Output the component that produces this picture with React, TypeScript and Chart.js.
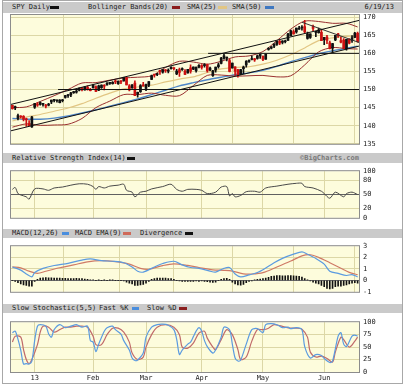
import React, { useEffect, useRef } from "react";
import { Chart, registerables } from "chart.js";
Chart.register(...registerables);

// ---------------- data ----------------
// trading days from 12/19/12 (index 0) to 6/19/13 (index 124)
const monthTicks = [8, 29, 48, 68, 90, 112];
const monthLabels = ["13", "Feb", "Mar", "Apr", "May", "Jun"];

const open = [145.6,144.9,142.0,142.6,142.6,141.9,140.6,139.7,145.1,145.9,145.9,145.9,145.7,145.7,146.6,147.0,146.9,146.4,146.9,147.8,148.3,148.5,149.1,149.3,149.8,150.3,149.9,150.6,149.9,150.5,150.8,149.8,150.5,151.1,151.3,151.7,151.6,152.3,151.6,152.4,152.4,153.3,151.0,150.5,151.8,148.7,149.4,151.1,150.3,151.2,152.8,154.1,154.1,155.1,154.8,155.4,155.1,155.8,156.0,154.3,155.5,155.5,155.1,154.6,156.0,155.6,155.2,156.2,156.6,156.6,156.9,155.4,153.8,155.4,156.3,157.2,158.6,158.7,158.0,156.0,156.3,155.5,154.2,155.8,156.8,157.8,158.3,158.3,158.6,159.3,159.2,158.4,161.1,161.4,162.0,162.5,163.3,163.0,163.2,163.6,164.9,166.0,165.9,166.7,167.0,167.4,164.1,164.4,167.4,165.8,165.7,165.8,163.8,164.5,162.9,161.4,163.7,165.4,163.5,163.7,161.3,163.9,163.6,164.4,165.5];
const high = [145.7,145.4,143.2,142.8,142.8,142.1,141.4,142.6,146.2,146.4,146.6,146.1,145.9,146.2,147.1,147.2,147.1,147.2,147.3,148.4,148.6,149.2,149.5,150.0,150.5,150.6,150.8,151.0,150.3,151.4,151.0,151.2,151.3,151.4,151.9,151.9,152.2,152.6,152.4,152.5,153.3,153.3,151.4,151.4,152.4,149.3,151.4,152.0,151.5,152.2,154.0,154.2,154.5,155.4,155.5,155.5,155.7,156.3,156.0,155.6,155.9,156.0,155.5,155.6,156.8,156.3,156.2,156.9,156.9,157.2,157.0,156.2,155.3,156.2,157.3,158.9,159.7,159.0,158.4,157.3,156.3,155.6,155.6,156.5,158.0,158.2,159.3,158.6,159.5,159.7,159.3,159.9,161.6,161.9,162.6,163.3,163.6,163.5,163.7,165.5,166.4,166.5,167.0,167.5,167.7,169.1,165.9,165.4,167.8,166.0,167.0,166.4,164.4,165.0,163.4,162.8,165.0,165.5,164.6,164.1,163.9,164.1,164.9,165.8,165.9];
const low = [144.6,144.4,141.6,142.1,141.3,139.8,140.0,139.5,144.8,145.3,145.7,145.4,144.9,145.5,146.1,146.6,146.5,146.3,146.6,147.6,147.8,148.0,148.9,149.0,149.6,149.6,149.8,149.8,149.6,150.4,149.4,149.7,150.3,149.9,151.2,151.4,151.5,151.6,151.4,151.6,152.3,151.3,149.6,150.3,148.3,147.9,149.2,150.9,149.7,150.8,152.7,153.4,153.8,154.2,154.5,154.7,154.6,155.6,155.4,154.1,153.6,155.3,154.1,154.5,154.5,155.5,154.8,156.0,155.6,156.2,154.8,155.2,153.6,154.8,155.9,157.1,158.4,157.9,154.9,155.9,153.9,153.4,154.1,154.4,156.2,157.5,158.2,157.8,158.4,158.6,158.0,158.3,160.9,161.2,161.6,162.2,162.4,162.6,162.9,163.6,164.8,165.3,165.6,166.6,166.4,165.6,163.9,164.1,166.3,164.6,165.6,163.5,162.4,162.7,161.2,160.2,163.5,164.4,162.9,161.3,160.9,162.6,163.0,164.3,163.1];
const close = [144.7,145.3,142.8,142.4,141.8,141.6,140.0,142.4,146.1,145.7,146.4,145.9,145.4,145.9,147.1,147.1,146.9,147.1,147.1,148.3,148.5,149.1,149.4,149.4,150.3,150.1,150.7,150.1,149.7,151.2,149.5,151.0,151.2,150.9,151.8,151.8,152.0,152.1,152.3,152.1,153.3,151.3,149.9,151.3,148.3,149.2,151.1,151.0,151.4,152.2,153.8,154.0,154.3,155.0,155.5,155.2,155.4,156.2,155.8,155.1,154.7,155.8,154.2,155.6,155.1,156.2,156.2,156.7,156.1,156.8,155.2,155.9,155.2,156.2,156.8,158.7,159.3,158.8,155.0,157.3,155.1,154.1,155.5,156.2,157.8,157.9,158.4,158.2,159.3,159.7,158.3,159.8,161.4,161.8,162.6,163.3,162.8,163.4,163.4,165.4,166.2,165.4,167.0,166.9,167.2,165.9,165.4,165.4,166.9,165.8,166.4,163.5,164.4,163.6,161.3,162.7,165.0,164.8,163.1,161.4,163.9,162.8,164.3,165.6,163.2];

// [day index, value]
const bbUpper = [[0,145.0],[5,145.2],[10,146.7],[15,148.3],[20,150.0],[25,151.8],[30,151.9],[35,152.6],[40,153.2],[45,153.4],[50,153.8],[55,156.1],[60,157.8],[65,157.6],[70,157.0],[75,157.8],[80,159.0],[85,159.3],[90,160.5],[95,163.5],[100,166.7],[105,168.9],[110,168.8],[115,168.3],[120,168.3],[124,167.3]];
const bbLower = [[0,139.6],[5,140.5],[10,140.1],[15,140.2],[20,140.4],[25,142.0],[30,145.0],[35,146.8],[40,148.6],[45,148.6],[50,149.0],[55,148.4],[60,148.3],[65,151.1],[70,153.9],[75,154.0],[80,153.7],[85,153.8],[90,153.9],[95,153.5],[100,153.8],[105,156.8],[110,160.4],[115,161.6],[120,161.3],[124,161.2]];
const sma25 = [[0,141.3],[5,142.4],[10,143.1],[15,144.0],[20,144.9],[25,146.1],[30,147.6],[35,149.0],[40,150.2],[45,150.7],[50,151.2],[55,152.1],[60,152.9],[65,153.5],[70,154.7],[75,155.7],[80,156.1],[85,156.3],[90,157.0],[95,158.1],[100,159.6],[105,161.5],[110,163.5],[115,164.3],[120,164.7],[124,164.7]];
const sma50 = [[0,142.0],[5,141.8],[10,141.8],[15,142.1],[20,142.7],[25,143.5],[30,144.4],[35,145.4],[40,146.4],[45,147.4],[50,148.6],[55,149.8],[60,151.0],[65,151.9],[70,152.7],[75,153.4],[80,154.1],[85,154.6],[90,155.3],[95,156.4],[100,157.7],[105,158.8],[110,159.9],[115,160.7],[120,161.4],[124,162.0]];

// trend / support lines [x index, price]
const trendUpper = [[-0.5,145.9],[124.5,169.1]];
const trendLower = [[-0.5,138.6],[124.5,162.0]];
const support150 = [[16.4,150],[124.5,150]];
const support160 = [[70.3,160],[124.5,160]];
const trendMay = [[104,168.6],[124.5,163.0]];

const rsi = [[0,61],[1,65],[2,52],[3,49],[5,45],[6,40],[8,62],[11,62],[13,59],[15,64],[18,66],[21,70],[24,73],[27,72],[29,67],[30,61],[31,67],[33,64],[35,68],[38,70],[40,72],[41,59],[43,55],[44,45],[46,55],[48,57],[50,62],[54,67],[57,72],[59,61],[61,57],[63,61],[66,61],[68,59],[70,52],[73,55],[75,66],[77,67],[78,47],[79,52],[80,45],[82,48],[84,56],[87,57],[89,55],[91,64],[95,68],[99,72],[102,74],[104,74],[105,67],[108,64],[111,57],[112,52],[114,42],[116,55],[119,45],[120,52],[122,55],[124,50]];

const macd = [[0,1.18],[3,0.9],[5,0.56],[7,0.31],[8,0.69],[11,1.06],[15,1.31],[20,1.5],[25,1.78],[28,1.88],[32,1.73],[36,1.68],[40,1.55],[43,1.18],[45,0.8],[47,0.73],[51,1.18],[54,1.48],[58,1.68],[61,1.36],[64,1.13],[67,1.06],[71,0.81],[73,0.73],[76,1.06],[78,1.13],[80,0.56],[82,0.31],[85,0.48],[88,0.69],[90,0.93],[94,1.55],[97,1.93],[101,2.3],[104,2.5],[106,2.3],[109,1.93],[112,1.43],[114,0.81],[117,0.61],[120,0.43],[122,0.51],[124,0.31]];
const macdSignal = [[0,1.18],[3,1.1],[6,0.81],[9,0.62],[12,0.8],[17,1.11],[22,1.36],[27,1.63],[32,1.73],[37,1.64],[42,1.43],[46,1.06],[49,0.98],[54,1.3],[58,1.45],[63,1.31],[67,1.13],[72,0.93],[76,0.88],[79,0.81],[83,0.58],[86,0.56],[90,0.68],[95,1.18],[100,1.7],[104,2.15],[107,2.25],[110,2.02],[114,1.55],[118,1.06],[121,0.7],[124,0.5]];
const divergence = [0,-0.1,-0.2,-0.3,-0.4,-0.45,-0.5,-0.5,-0.1,0.1,0.2,0.22,0.25,0.22,0.22,0.2,0.2,0.2,0.18,0.18,0.15,0.15,0.15,0.18,0.15,0.15,0.12,0.1,0.05,0.05,0,0.02,0,0.02,0,0.02,0.02,0,0,0,-0.05,-0.15,-0.25,-0.3,-0.45,-0.45,-0.4,-0.35,-0.25,-0.1,0.1,0.15,0.2,0.2,0.2,0.2,0.15,0.15,0.1,0,-0.05,-0.08,-0.1,-0.1,-0.1,-0.08,-0.05,-0.08,-0.05,-0.1,-0.12,-0.15,-0.18,-0.15,0,0.1,0.15,0.18,0.1,-0.15,-0.3,-0.4,-0.42,-0.35,-0.2,-0.1,-0.05,0.05,0.1,0.12,0.15,0.2,0.28,0.35,0.38,0.42,0.42,0.4,0.4,0.42,0.42,0.4,0.38,0.35,0.3,0.15,0.05,-0.05,-0.15,-0.25,-0.3,-0.45,-0.55,-0.7,-0.75,-0.7,-0.55,-0.5,-0.5,-0.45,-0.4,-0.3,-0.25,-0.2,-0.25];

const stochK = [[0,79],[1,82],[2,66],[3,44],[4,16],[5,17],[6,16],[7,22],[8,63],[9,92],[10,95],[12,92],[13,77],[14,70],[15,85],[17,95],[19,89],[21,92],[23,95],[25,90],[27,92],[28,63],[29,60],[30,41],[31,56],[33,82],[34,89],[36,92],[37,85],[39,76],[40,63],[42,44],[43,28],[44,23],[45,24],[47,38],[48,70],[50,90],[52,95],[54,96],[56,94],[58,85],[59,66],[60,35],[61,44],[63,56],[64,60],[65,71],[66,82],[67,89],[68,82],[69,63],[70,51],[72,38],[73,44],[75,70],[76,90],[78,85],[79,56],[80,28],[81,22],[82,24],[84,56],[86,85],[88,87],[90,79],[91,95],[93,97],[95,95],[97,89],[99,90],[100,87],[102,89],[104,85],[105,51],[107,28],[109,35],[111,33],[112,27],[114,19],[115,22],[117,72],[118,79],[119,56],[120,51],[122,72],[123,74],[124,72]];
const stochD = [[0,60],[1,72],[3,70],[4,45],[5,25],[6,17],[7,25],[9,55],[10,80],[11,92],[13,90],[15,80],[17,85],[19,90],[21,90],[23,92],[25,92],[27,90],[29,72],[30,55],[32,55],[34,75],[36,88],[38,88],[40,80],[42,60],[43,38],[45,25],[47,30],[48,50],[50,75],[52,90],[55,95],[58,90],[60,75],[61,50],[63,48],[65,58],[67,78],[69,82],[70,68],[72,50],[73,45],[75,65],[77,85],[79,75],[81,45],[82,25],[84,30],[86,62],[88,85],[90,85],[92,88],[94,95],[96,93],[98,90],[100,88],[102,88],[104,86],[106,70],[107,40],[109,30],[111,32],[113,27],[115,20],[116,40],[118,70],[119,65],[121,50],[123,62],[124,70]];

const priceTicks = [135, 140, 145, 150, 155, 160, 165, 170];
const rsiTicks = [0, 20, 50, 80, 100];
const macdTicks = [-1, 0, 1, 2, 3];
const stochTicks = [0, 25, 50, 75, 100];

// ---------------- styles ----------------
const W = 405;
const PLOT_BG = "#fdfcdc";
const GRID = "#dcd7a6";
const HEADER_BG = "#cacaca";
const TEXT = "#222";
const MONO = '"DejaVu Sans Mono", monospace';
const FONT = { family: MONO, size: 7 };

const pts = (a: number[][]) => a.map(([x, y]) => ({ x, y }));

const panelBg = {
  id: "panelBg",
  beforeDraw(chart: any) {
    const { ctx, chartArea: a } = chart;
    ctx.save();
    ctx.fillStyle = PLOT_BG;
    ctx.fillRect(a.left, a.top, a.right - a.left, a.bottom - a.top);
    ctx.restore();
  },
  afterDraw(chart: any) {
    const { ctx, chartArea: a } = chart;
    ctx.save();
    ctx.strokeStyle = "#8c8c8c";
    ctx.lineWidth = 1;
    ctx.strokeRect(a.left - 0.5, a.top - 0.5, a.right - a.left + 1, a.bottom - a.top + 1);
    ctx.restore();
  },
};

function xScale(showLabels: boolean) {
  return {
    type: "linear",
    min: -0.5,
    max: 124.5,
    offset: false,
    afterBuildTicks: (s: any) => {
      s.ticks = monthTicks.map((v) => ({ value: v }));
    },
    afterFit: (s: any) => {
      s.height = showLabels ? 12 : 0;
    },
    grid: { color: GRID, drawTicks: false },
    border: { display: false },
    ticks: {
      display: showLabels,
      padding: 2,
      font: FONT,
      color: TEXT,
      maxRotation: 0,
      autoSkip: false,
      callback: (_v: any, i: number) => monthLabels[i],
    },
  };
}

function yScale(min: number, max: number, ticks: number[], gridColor: (v: number) => string) {
  return {
    position: "right",
    min,
    max,
    afterBuildTicks: (s: any) => {
      s.ticks = ticks.map((v) => ({ value: v }));
    },
    afterFit: (s: any) => {
      s.width = 46;
    },
    grid: { color: (c: any) => gridColor(c.tick ? c.tick.value : 0), drawTicks: false },
    border: { display: false },
    ticks: { padding: 4, font: FONT, color: TEXT, autoSkip: false },
  };
}

function baseOptions(padTop: number, padBottom: number, y: any, showX: boolean) {
  return {
    responsive: false,
    animation: false,
    devicePixelRatio: 1,
    events: [],
    layout: { padding: { left: 11, right: 0, top: padTop, bottom: padBottom } },
    plugins: { legend: { display: false }, tooltip: { enabled: false } },
    scales: { x: xScale(showX), y },
  };
}

const line = (data: number[][], color: string, order: number, width = 1) => ({
  type: "line",
  data: pts(data),
  borderColor: color,
  borderWidth: width,
  pointRadius: 0,
  tension: 0.3,
  order,
});

const straight = (data: number[][], color: string, order: number) => ({
  type: "line",
  data: pts(data),
  borderColor: color,
  borderWidth: 1,
  pointRadius: 0,
  tension: 0,
  order,
});

const UP = "#111111";
const DOWN = "#cc1010";
const candleColor = close.map((c, i) => (c >= open[i] ? UP : DOWN));

function mainConfig() {
  return {
    type: "bar",
    data: {
      datasets: [
        straight(trendUpper, "#111", 0),
        straight(trendLower, "#111", 0),
        straight(support150, "#111", 0),
        straight(support160, "#111", 0),
        straight(trendMay, "#333", 0),
        {
          type: "bar",
          data: close.map((c, i) => ({ x: i, y: [open[i], c] })),
          backgroundColor: candleColor,
          barThickness: 2,
          minBarLength: 1,
          grouped: false,
          order: 1,
        },
        {
          type: "bar",
          data: close.map((_c, i) => ({ x: i, y: [low[i], high[i]] })),
          backgroundColor: candleColor,
          barThickness: 1,
          grouped: false,
          order: 2,
        },
        line(bbUpper, "#9a3030", 3),
        line(bbLower, "#9a3030", 3),
        line(sma25, "#e2c684", 4, 1.2),
        line(sma50, "#4f86c8", 5, 1.4),
      ],
    },
    options: baseOptions(15, 6, yScale(135, 170.6, priceTicks, () => GRID), false),
    plugins: [panelBg],
  };
}

function rsiConfig() {
  return {
    type: "line",
    data: { datasets: [line(rsi, "#4a4a4a", 0)] },
    options: baseOptions(4, 5, yScale(0, 100, rsiTicks, (v) => (v === 50 ? "#606060" : v === 0 || v === 100 ? "rgba(0,0,0,0)" : GRID)), false),
    plugins: [panelBg],
  };
}

function macdConfig() {
  return {
    type: "bar",
    data: {
      datasets: [
        line(macd, "#5b9be0", 0, 1.2),
        line(macdSignal, "#cf7a66", 1, 1.2),
        {
          type: "bar",
          data: divergence.map((v, i) => ({ x: i, y: v })),
          backgroundColor: "#111",
          barThickness: 1,
          grouped: false,
          order: 2,
        },
      ],
    },
    options: baseOptions(4, 4, yScale(-1, 3, macdTicks, (v) => (v === 0 ? "#707070" : v === -1 || v === 3 ? "rgba(0,0,0,0)" : GRID)), false),
    plugins: [panelBg],
  };
}

function stochConfig() {
  return {
    type: "line",
    data: {
      datasets: [line(stochK, "#5b9be0", 0, 1.2), line(stochD, "#c06a6a", 1, 1.2)],
    },
    options: baseOptions(5, 1, yScale(0, 100, stochTicks, (v) => (v === 0 || v === 100 ? "rgba(0,0,0,0)" : GRID)), true),
    plugins: [panelBg],
  };
}

function Panel({ top, height, make }: { top: number; height: number; make: () => any }) {
  const ref = useRef<HTMLCanvasElement>(null);
  useEffect(() => {
    const chart = new Chart(ref.current as HTMLCanvasElement, make());
    return () => chart.destroy();
  }, []);
  return (
    <canvas
      ref={ref}
      width={W}
      height={height}
      style={{ position: "absolute", left: 0, top, width: W, height }}
    />
  );
}

type Item = { x: number; text?: string; swatch?: string; w?: number; right?: boolean; color?: string; bold?: boolean };

function Header({ top, height, items }: { top: number; height: number; items: Item[] }) {
  return (
    <div style={{ position: "absolute", left: 3, top, width: 399, height, background: HEADER_BG }}>
      {items.map((it, k) =>
        it.swatch ? (
          <div
            key={k}
            style={{
              position: "absolute",
              left: it.x - 3,
              top: Math.round((height - 3) / 2),
              width: it.w || 8,
              height: 3,
              background: it.swatch,
            }}
          />
        ) : (
          <div
            key={k}
            style={{
              position: "absolute",
              top: 0,
              height,
              lineHeight: `${height}px`,
              fontFamily: MONO,
              fontSize: 7,
              fontWeight: it.bold ? "bold" : "normal",
              color: it.color || TEXT,
              whiteSpace: "nowrap",
              ...(it.right ? { right: 402 - it.x } : { left: it.x - 3 }),
            }}
          >
            {it.text}
          </div>
        )
      )}
    </div>
  );
}

export default function App() {
  return (
    <div
      style={{
        position: "fixed",
        left: 0,
        top: 0,
        width: W,
        height: 385,
        background: "#ffffff",
        overflow: "hidden",
      }}
    >
      <div
        style={{
          position: "absolute",
          left: 2,
          top: 0,
          width: 399,
          height: 382,
          border: "1px solid #a8a8a8",
        }}
      />
      <Header
        top={2}
        height={11}
        items={[
          { x: 12, text: "SPY Daily" },
          { x: 50, swatch: "#111", w: 9 },
          { x: 88, text: "Bollinger Bands(20)" },
          { x: 172, swatch: "#8b1c1c", w: 8 },
          { x: 187, text: "SMA(25)" },
          { x: 218, swatch: "#e2c684", w: 9 },
          { x: 232, text: "SMA(50)" },
          { x: 265, swatch: "#3f78c0", w: 9 },
          { x: 394, text: "6/19/13", right: true },
        ]}
      />
      <Header
        top={153}
        height={10}
        items={[
          { x: 12, text: "Relative Strength Index(14)" },
          { x: 127, swatch: "#111", w: 8 },
          { x: 359, text: "\u00a9BigCharts.com", right: true, color: "#7a7a7a", bold: true },
        ]}
      />
      <Header
        top={229}
        height={9}
        items={[
          { x: 12, text: "MACD(12,26)" },
          { x: 62, swatch: "#4a8ede", w: 7 },
          { x: 75, text: "MACD EMA(9)" },
          { x: 123, swatch: "#cf6a5a", w: 8 },
          { x: 140, text: "Divergence" },
          { x: 185, swatch: "#111", w: 8 },
        ]}
      />
      <Header
        top={304}
        height={9}
        items={[
          { x: 12, text: "Slow Stochastic(5,5)" },
          { x: 99, text: "Fast %K" },
          { x: 132, swatch: "#4a8ede", w: 7 },
          { x: 147, text: "Slow %D" },
          { x: 179, swatch: "#8b2020", w: 8 },
        ]}
      />
      <Panel top={0} height={152} make={mainConfig} />
      <Panel top={163} height={63} make={rsiConfig} />
      <Panel top={238} height={62} make={macdConfig} />
      <Panel top={314} height={71} make={stochConfig} />
    </div>
  );
}
